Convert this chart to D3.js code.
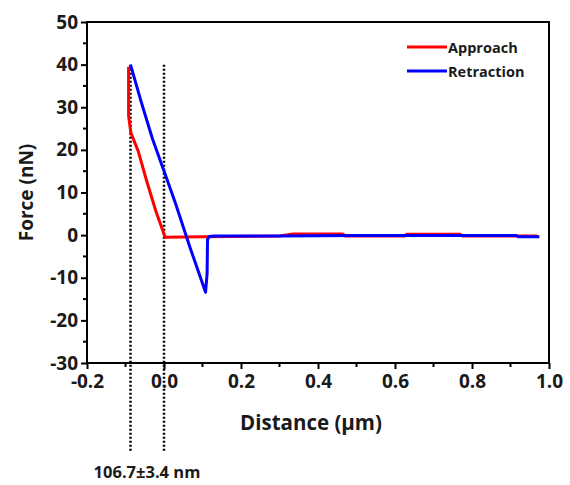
<html>
<head>
<script src="https://cdn.jsdelivr.net/npm/d3@7"></script>
<style>
  body { margin: 0; background: #fff; }
  text { font-family: "Open Sans", sans-serif; font-weight: 700; fill: #1a1a1a; }
</style>
</head>
<body>
<svg id="chart" width="570" height="485"></svg>
<script>
  // approach curve (distance in um, force in nN)
  const approachX = [-0.092, -0.092, -0.086, -0.067, -0.045, -0.021, 0.003, 0.10, 0.30, 0.335, 0.465, 0.47, 0.626, 0.63, 0.77, 0.775, 0.97]
  const approachY = [39.5, 28.0, 24.0, 19.7, 12.7, 5.6, -0.5, -0.4, -0.2, 0.25, 0.25, -0.2, -0.2, 0.2, 0.2, -0.2, -0.2]
  // retraction curve
  const retractX = [-0.087, -0.06, -0.03, 0.003, 0.03, 0.068, 0.108, 0.112, 0.113, 0.118, 0.13, 0.30, 0.50, 0.70, 0.915, 0.92, 0.975]
  const retractY = [40.0, 31.5, 22.6, 14.3, 7.4, -3.0, -13.4, -9.0, -1.0, -0.3, -0.2, -0.2, -0.1, -0.1, -0.1, -0.4, -0.4]
  const markerX = [-0.087, 0.0]
  const xTicks = [-0.2, 0.0, 0.2, 0.4, 0.6, 0.8, 1.0]
  const yTicks = [-30, -20, -10, 0, 10, 20, 30, 40, 50]

  const svg = d3.select('#chart')
  const plot = { left: 87, right: 549, top: 22, bottom: 363 }

  const x = d3.scaleLinear().domain([-0.2, 1.0]).range([plot.left, plot.right])
  const y = d3.scaleLinear().domain([-30, 50]).range([plot.bottom, plot.top])

  // frame
  svg.append('rect')
    .attr('x', plot.left).attr('y', plot.top)
    .attr('width', plot.right - plot.left).attr('height', plot.bottom - plot.top)
    .attr('fill', 'none').attr('stroke', '#000').attr('stroke-width', 2)

  // dotted markers
  svg.selectAll('.marker').data(markerX).enter()
    .append('line')
      .attr('x1', d => x(d)).attr('x2', d => x(d))
      .attr('y1', y(40)).attr('y2', 452)
      .attr('stroke', '#000').attr('stroke-width', 2.5)
      .attr('stroke-dasharray', '2,2')

  // axes (plain hyphen for negatives, like the original)
  const hyphen = f => d => f(d).replace('\u2212', '-')
  const xAxis = d3.axisBottom(x).tickValues(xTicks).tickFormat(hyphen(d3.format('.1f'))).tickSize(6).tickPadding(6)
  const yAxis = d3.axisLeft(y).tickValues(yTicks).tickFormat(hyphen(d3.format('d'))).tickSize(6).tickPadding(3)

  const gx = svg.append('g').attr('transform', `translate(0,${plot.bottom})`).call(xAxis)
  const gy = svg.append('g').attr('transform', `translate(${plot.left},0)`).call(yAxis)
  ;[gx, gy].forEach(g => {
    g.select('.domain').remove()
    g.selectAll('line').attr('stroke', '#000').attr('stroke-width', 2)
    g.selectAll('text').style('font-size', '19px').attr('fill', '#1a1a1a')
  })

  // minor ticks
  const xMinor = d3.range(-0.1, 1.0, 0.2)
  svg.selectAll('.xminor').data(xMinor).enter()
    .append('line')
      .attr('x1', d => x(d)).attr('x2', d => x(d))
      .attr('y1', plot.bottom).attr('y2', plot.bottom + 4)
      .attr('stroke', '#000').attr('stroke-width', 2)
  const yMinor = d3.range(-25, 50, 10)
  svg.selectAll('.yminor').data(yMinor).enter()
    .append('line')
      .attr('x1', plot.left - 4).attr('x2', plot.left)
      .attr('y1', d => y(d)).attr('y2', d => y(d))
      .attr('stroke', '#000').attr('stroke-width', 2)

  const line = d3.line().x(d => x(d[0])).y(d => y(d[1]))

  svg.append('path')
    .datum(d3.zip(approachX, approachY))
    .attr('d', line)
    .attr('fill', 'none').attr('stroke', '#ff0000').attr('stroke-width', 3)
    .attr('stroke-linejoin', 'round')

  svg.append('path')
    .datum(d3.zip(retractX, retractY))
    .attr('d', line)
    .attr('fill', 'none').attr('stroke', '#0000ff').attr('stroke-width', 3)
    .attr('stroke-linejoin', 'round')

  // legend
  const legend = [['Approach', '#ff0000'], ['Retraction', '#0000ff']]
  const lg = svg.selectAll('.legend').data(legend).enter()
    .append('g').attr('transform', (d, i) => `translate(407,${47 + i * 24})`)
  lg.append('line').attr('x1', 0).attr('x2', 40)
    .attr('stroke', d => d[1]).attr('stroke-width', 3)
  lg.append('text').attr('x', 41).attr('y', 5.5)
    .style('font-size', '14.5px').text(d => d[0])

  // titles
  svg.append('text')
    .attr('transform', `translate(33,${(plot.top + plot.bottom) / 2}) rotate(-90)`)
    .attr('text-anchor', 'middle')
    .style('font-size', '19px')
    .text('Force (nN)')

  svg.append('text')
    .attr('x', 311).attr('y', 430)
    .attr('text-anchor', 'middle')
    .style('font-size', '20.5px')
    .text('Distance (μm)')

  svg.append('text')
    .attr('x', 147).attr('y', 478)
    .attr('text-anchor', 'middle')
    .style('font-size', '16.5px')
    .text('106.7±3.4 nm')
</script>
</body>
</html>
